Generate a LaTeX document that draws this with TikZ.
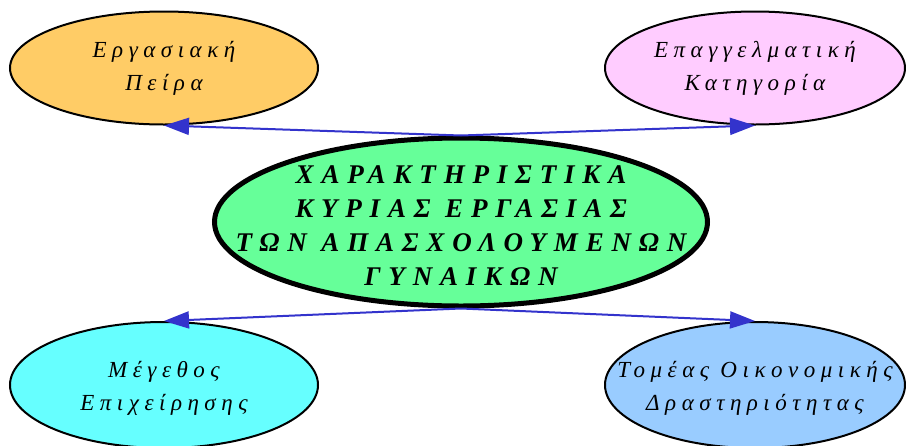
\documentclass[tikz,border=0pt]{standalone}
\usepackage{fontspec}
\setmainfont{Liberation Serif}
\usetikzlibrary{shapes.geometric, arrows.meta, positioning}

\definecolor{peiracol}{HTML}{FFCC66}
\definecolor{katcol}{HTML}{FFCCFF}
\definecolor{hubcol}{HTML}{66FF99}
\definecolor{megcol}{HTML}{66FFFF}
\definecolor{tomcol}{HTML}{99CCFF}
\definecolor{linkblue}{HTML}{3333CC}

\begin{document}
\begin{tikzpicture}[x=1pt, y=-1pt,
    topic/.style={ellipse, draw, line width=2pt, minimum width=308pt, minimum height=113pt, inner sep=0pt},
    hub/.style={ellipse, draw, line width=5pt, minimum width=493pt, minimum height=168pt, inner sep=0pt},
    topictext/.style={align=center, inner sep=0pt, font=\itshape\fontsize{23}{33}\selectfont\addfontfeature{LetterSpace=24}},
    hubtext/.style={align=center, inner sep=0pt, font=\bfseries\itshape\fontsize{27}{34}\selectfont\addfontfeature{LetterSpace=29}},
    link/.style={draw=linkblue, line width=2pt, -{Triangle[length=25pt, width=17pt]}}]

\useasboundingbox (0,0) rectangle (906,445);

% the ellipses
\node [hub, fill=hubcol] (hub) at (461,222) {};
\node [topic, fill=peiracol] (peira) at (164,68) {};
\node [topic, fill=katcol, minimum width=300pt] (katigoria) at (755,68) {};
\node [topic, fill=megcol, minimum height=126pt] (megethos) at (164,385) {};
\node [topic, fill=tomcol, minimum width=300pt, minimum height=126pt] (tomeas) at (755,385) {};

% the texts
\node [hubtext] (hubtxt) at ([yshift=-4pt]hub.center) {ΧΑΡΑΚΤΗΡΙΣΤΙΚΑ\\ΚΥΡΙΑΣ ΕΡΓΑΣΙΑΣ\\ΤΩΝ ΑΠΑΣΧΟΛΟΥΜΕΝΩΝ\\ΓΥΝΑΙΚΩΝ};
\node [topictext] (peiratxt) at (peira.center) {Εργασιακή\\Πείρα};
\node [topictext] (katigoriatxt) at (katigoria.center) {Επαγγελματική\\Κατηγορία};
\node [topictext] (megethostxt) at ([yshift=-3pt]megethos.center) {Μέγεθος\\Επιχείρησης};
\node [topictext] (tomeastxt) at ([yshift=-3pt]tomeas.center) {Τομέας Οικονομικής\\Δραστηριότητας};

\draw [link] (hub.north) -- (peira.south);
\draw [link] (hub.north) -- (katigoria.south);
\draw [link] (hub.south) -- (megethos.north);
\draw [link] (hub.south) -- (tomeas.north);
\end{tikzpicture}
\end{document}
